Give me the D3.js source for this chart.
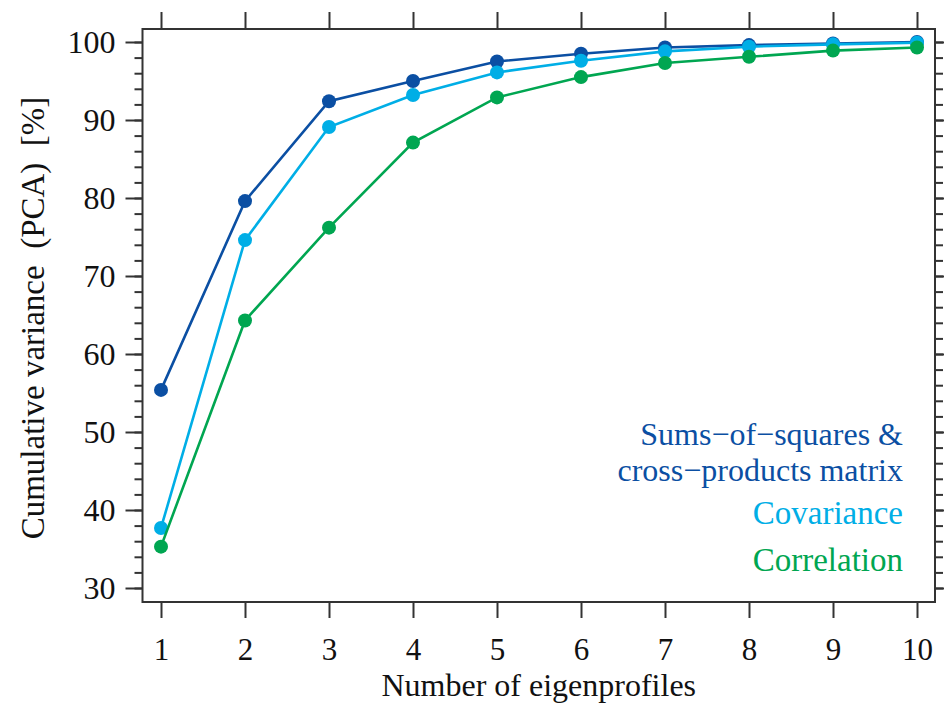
<!DOCTYPE html>
<html>
<head>
<meta charset="utf-8">
<script src="https://cdn.jsdelivr.net/npm/d3@7"></script>
<style>
  body { margin: 0; background: #fff; }
  svg text { font-family: "Liberation Serif", "DejaVu Serif", serif; }
</style>
</head>
<body>
<div id="chart"></div>
<script>
// number of eigenprofiles
var profiles = [1, 2, 3, 4, 5, 6, 7, 8, 9, 10];
// cumulative variance (%) for each PCA variant
var sums_squares = [55.4, 79.6, 92.4, 95.0, 97.5, 98.5, 99.3, 99.6, 99.8, 100.0];
var covariance = [37.7, 74.6, 89.1, 93.2, 96.1, 97.6, 98.8, 99.4, 99.7, 99.9];
var correlation = [35.3, 64.3, 76.2, 87.1, 92.9, 95.5, 97.3, 98.1, 98.9, 99.3];
var y_ticks = [30, 40, 50, 60, 70, 80, 90, 100];
var y_minor = d3.range(30, 101, 2);

var svg_width = 944;
var svg_height = 703;

var frame = { left: 142.5, right: 935, top: 29, bottom: 602 };

var svg = d3.select("#chart")
    .append("svg")
    .attr("width", svg_width)
    .attr("height", svg_height);

var x_scale = d3.scaleLinear()
    .domain([1, 10])
    .range([161, 917]);
var y_scale = d3.scaleLinear()
    .domain([30, 100])
    .range([588, 42]);

var axis_color = "#333";

function style_axis(g, size) {
    g.select(".domain").remove();
    g.selectAll("line").attr("stroke", axis_color).attr("stroke-width", 2);
    g.selectAll("text").style("font-size", (size || 32) + "px").attr("fill", "#111")
        .style("font-family", "'Liberation Serif', serif");
}

// minor ticks, left and right
svg.append("g")
    .attr("transform", `translate(${frame.left},0)`)
    .call(d3.axisLeft(y_scale).tickValues(y_minor).tickSize(8).tickFormat(""))
    .call(style_axis);
svg.append("g")
    .attr("transform", `translate(${frame.right},0)`)
    .call(d3.axisRight(y_scale).tickValues(y_minor).tickSize(8).tickFormat(""))
    .call(style_axis);

// major ticks
svg.append("g")
    .attr("transform", `translate(${frame.left},0)`)
    .call(d3.axisLeft(y_scale).tickValues(y_ticks).tickSize(17).tickPadding(10))
    .call(style_axis);
svg.append("g")
    .attr("transform", `translate(${frame.right},0)`)
    .call(d3.axisRight(y_scale).tickValues(y_ticks).tickSize(17).tickFormat(""))
    .call(style_axis);

svg.append("g")
    .attr("transform", `translate(0,${frame.bottom})`)
    .call(d3.axisBottom(x_scale).tickValues(profiles).tickSize(16).tickPadding(20))
    .call(g => style_axis(g, 31));
svg.append("g")
    .attr("transform", `translate(0,${frame.top})`)
    .call(d3.axisTop(x_scale).tickValues(profiles).tickSize(17).tickFormat(""))
    .call(style_axis);

// frame
svg.append("rect")
    .attr("x", frame.left)
    .attr("y", frame.top)
    .attr("width", frame.right - frame.left)
    .attr("height", frame.bottom - frame.top)
    .attr("fill", "none")
    .attr("stroke", axis_color)
    .attr("stroke-width", 2);

var series = [
    { name: "sums", values: sums_squares, color: "#0b4fa3" },
    { name: "cov", values: covariance, color: "#00aee6" },
    { name: "corr", values: correlation, color: "#00a651" }
];

var line = d3.line()
    .x(function(d, i) { return x_scale(profiles[i]); })
    .y(function(d) { return y_scale(d); });

series.forEach(function(s) {
    var g = svg.append("g");
    g.append("path")
        .datum(s.values)
        .attr("d", line)
        .attr("fill", "none")
        .attr("stroke", s.color)
        .attr("stroke-width", 2.6);
    g.selectAll("circle")
        .data(s.values)
        .enter()
        .append("circle")
        .attr("cx", (d, i) => x_scale(profiles[i]))
        .attr("cy", d => y_scale(d))
        .attr("r", 7)
        .attr("fill", s.color);
});

// legend labels
var legend = [
    { text: "Sums\u2212of\u2212squares &", y: 445, size: 32, color: "#0b4fa3" },
    { text: "cross\u2212products matrix", y: 480.5, size: 32, color: "#0b4fa3" },
    { text: "Covariance", y: 524, size: 33, color: "#00aee6" },
    { text: "Correlation", y: 571, size: 33, color: "#00a651" }
];
svg.selectAll(".legend")
    .data(legend)
    .enter()
    .append("text")
    .attr("class", "legend")
    .attr("x", 903)
    .attr("y", d => d.y)
    .attr("text-anchor", "end")
    .style("font-size", d => d.size + "px")
    .attr("fill", d => d.color)
    .text(d => d.text);

// axis titles
svg.append("text")
    .attr("x", (frame.left + frame.right) / 2)
    .attr("y", 695.5)
    .attr("text-anchor", "middle")
    .style("font-size", "32px")
    .attr("fill", "#111")
    .text("Number of eigenprofiles");

svg.append("text")
    .attr("transform", "translate(44,318) rotate(-90)")
    .attr("text-anchor", "middle")
    .style("font-size", "33px")
    .attr("fill", "#111")
    .style("white-space", "pre")
    .text("Cumulative variance  (PCA)  [%]");
</script>
</body>
</html>
